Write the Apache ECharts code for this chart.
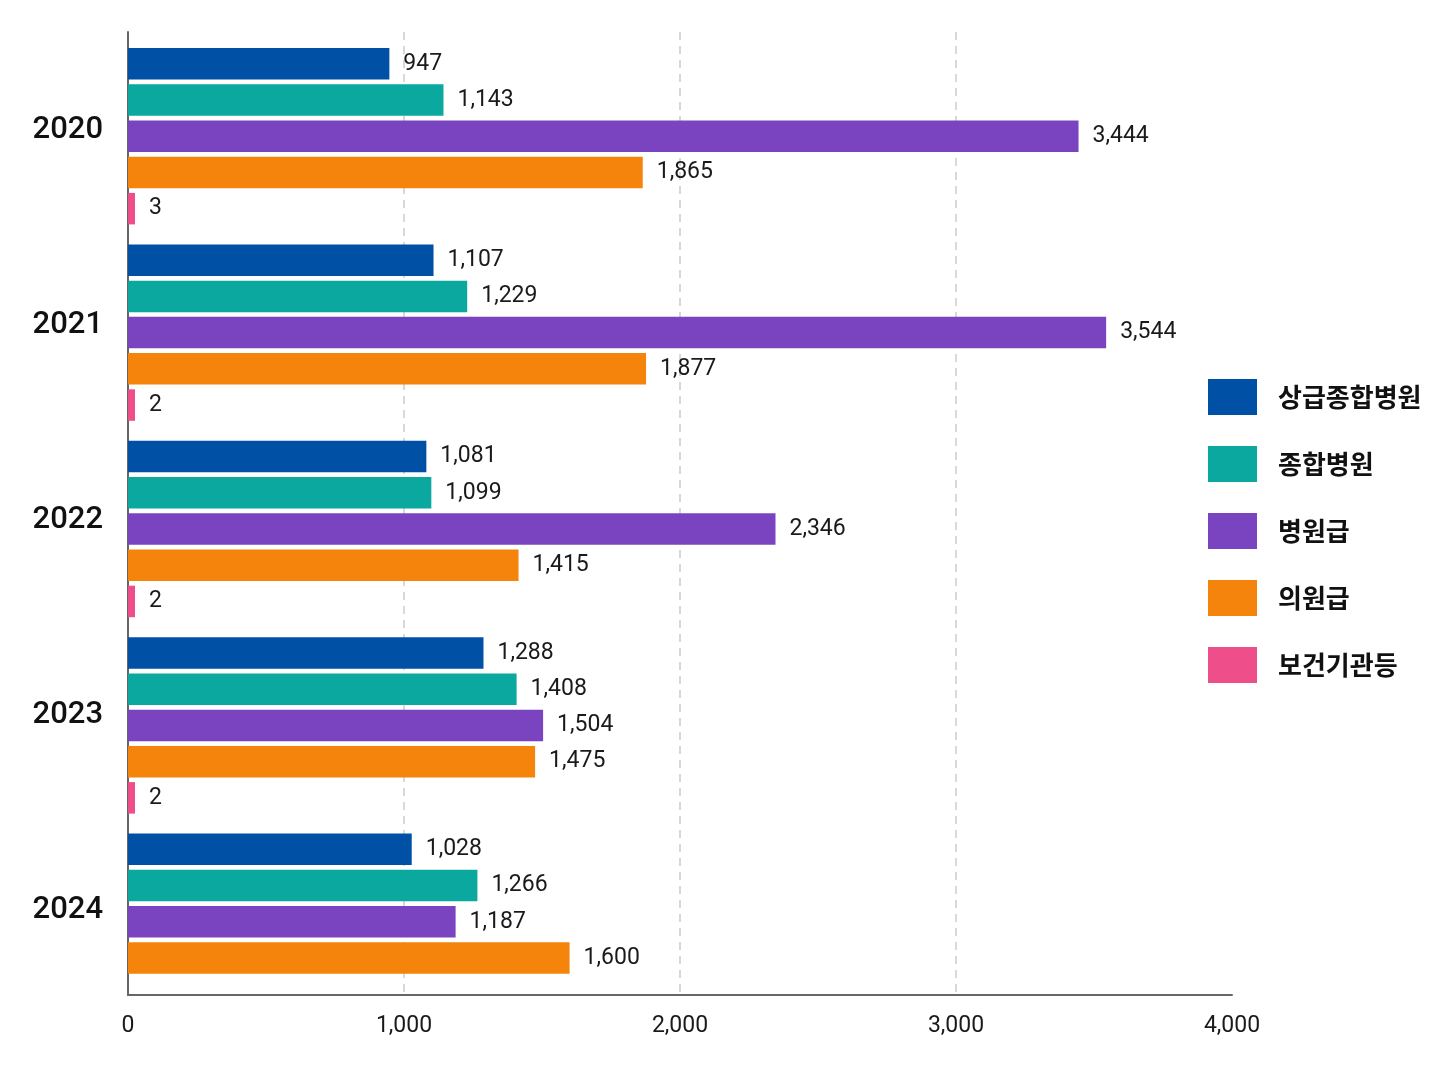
<!DOCTYPE html>
<html lang="ko">
    <head>
        <meta charset="UTF-8"/>
        <script src="https://cdn.jsdelivr.net/npm/echarts@6/dist/echarts.min.js"></script>
        <title>연도별 현황</title>
        <style>
            html, body { margin: 0; padding: 0; background: #fff; }
        </style>
    </head>
    <body>
        <div id="main" style="width: 1448px;height:1086px;"></div>
        <script type="text/javascript">

            // 데이터
            var years = ['2020', '2021', '2022', '2023', '2024'];
            var seriesNames = ['상급종합병원', '종합병원', '병원급', '의원급', '보건기관등'];
            var tertiary = [947, 1107, 1081, 1288, 1028];
            var general = [1143, 1229, 1099, 1408, 1266];
            var hospital = [3444, 3544, 2346, 1504, 1187];
            var clinic = [1865, 1877, 1415, 1475, 1600];
            var publicHealth = [3, 2, 2, 2, '-'];
            var xTicks = [0, 1000, 2000, 3000, 4000];

            var colors = ['#0050a5', '#0aa89e', '#7a44c0', '#f5840c', '#ee4f8a'];
            var values = [tertiary, general, hospital, clinic, publicHealth];

            var numFont = 'Roboto, sans-serif';
            var fmt = function (v) { return Number(v).toLocaleString('en-US'); };

            var myChart = echarts.init(document.getElementById('main'));

            var series = seriesNames.map(function (name, i) {
                return {
                    name: name,
                    type: 'bar',
                    xAxisIndex: 1,
                    yAxisIndex: 1,
                    data: values[i],
                    barWidth: 31.5,
                    barGap: '15%',
                    barMinHeight: 7,
                    itemStyle: { color: colors[i] },
                    label: {
                        show: true,
                        position: 'right',
                        distance: 14,
                        color: '#1a1a1a',
                        fontSize: 23,
                        fontFamily: numFont,
                        formatter: function (p) { return fmt(p.value); }
                    }
                };
            });

            // 0: 보이는 축/격자, 1: 막대, 2: 연도 라벨
            var grids = [
                { left: 128, right: 216, top: 32, bottom: 91 },
                { left: 128, right: 216, top: 38, height: 982 },
                { left: 128, right: 216, top: 33, height: 975 }
            ];

            var xAxes = grids.map(function (g, i) {
                return {
                    type: 'value',
                    gridIndex: i,
                    show: i === 0,
                    min: xTicks[0],
                    max: xTicks[xTicks.length - 1],
                    interval: 1000,
                    axisLine: { show: true, lineStyle: { color: '#666', width: 2 } },
                    axisTick: { show: false },
                    axisLabel: {
                        margin: 20,
                        fontSize: 23,
                        color: '#1a1a1a',
                        fontFamily: numFont,
                        formatter: fmt
                    },
                    splitLine: {
                        show: true,
                        showMaxLine: false,
                        lineStyle: { color: '#cccccc', type: [8, 6], width: 1.5 }
                    }
                };
            });

            var yAxes = grids.map(function (g, i) {
                return {
                    type: 'category',
                    gridIndex: i,
                    data: years,
                    inverse: true,
                    show: i !== 1,
                    axisLine: { show: i === 0, lineStyle: { color: '#666', width: 2 } },
                    axisTick: { show: false },
                    axisLabel: {
                        show: i === 2,
                        margin: 25,
                        fontSize: 31,
                        fontWeight: 500,
                        color: '#111',
                        fontFamily: numFont
                    }
                };
            });

            var option = {
                backgroundColor: '#ffffff',
                animation: false,
                color: colors,
                legend: {
                    orient: 'vertical',
                    left: 1203,
                    top: 374,
                    itemWidth: 49,
                    itemHeight: 36,
                    itemGap: 31,
                    icon: 'rect',
                    data: seriesNames,
                    textStyle: {
                        fontSize: 26,
                        fontWeight: 'bold',
                        color: '#111',
                        fontFamily: 'Noto Sans CJK KR',
                        padding: [0, 0, 0, 16]
                    }
                },
                grid: grids,
                xAxis: xAxes,
                yAxis: yAxes,
                series: series
            };

            myChart.setOption(option);

        </script>
    </body>
</html>
